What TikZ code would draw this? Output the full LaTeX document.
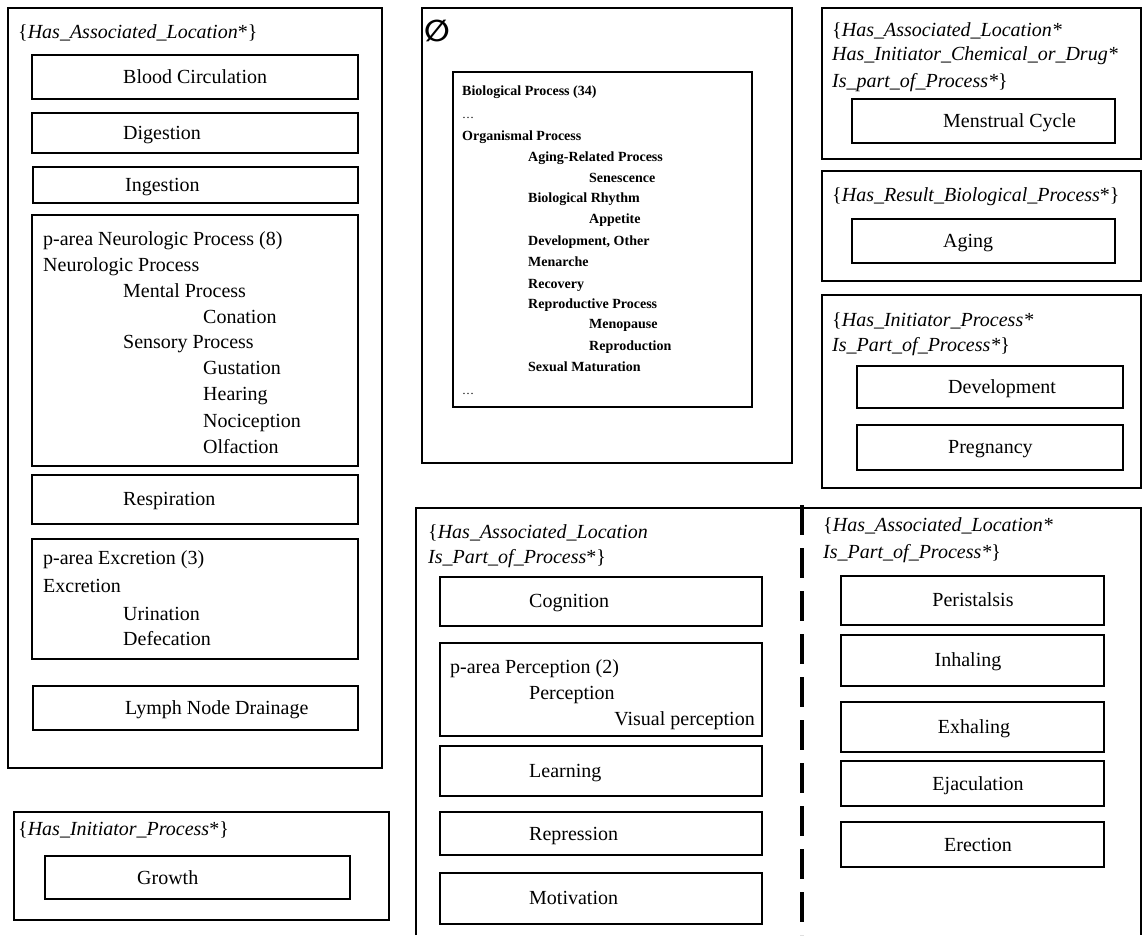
\documentclass[tikz,border=0pt]{standalone}
\usepackage{fontspec}
\setmainfont{Liberation Serif}
\newfontfamily\symfont{DejaVu Sans}
\begin{document}
\begin{tikzpicture}[x=1pt,y=-1pt,
  box/.style={draw=black,line width=2.2pt},
  outer/.style={draw=black,line width=1.8pt},
  lbl/.style={anchor=mid west,inner sep=0pt,yshift=-4.5pt,font=\fontsize{20}{24}\selectfont},
  hdr/.style={anchor=mid west,inner sep=0pt,yshift=-4.5pt,font=\fontsize{20}{24}\selectfont},
  sml/.style={anchor=mid west,inner sep=0pt,yshift=-3pt,font=\fontsize{14}{16}\selectfont\bfseries},
  dts/.style={anchor=base west,inner sep=0pt,font=\fontsize{12}{14}\selectfont}]
\useasboundingbox (0,0) rectangle (1143,935);
\fill[white] (0,0) rectangle (1143,935);

% ---------------- left big box
\draw[outer] (8,8) rectangle (382,768);
\node[hdr] (hA) at (18,32) {\{\textit{Has\_Associated\_Location}*\}};
\draw[box] (32,55) rectangle (358,99);
\node[lbl] (blood) at (123,77) {Blood Circulation};
\draw[box] (32,113) rectangle (358,153);
\node[lbl] (dig) at (123,133) {Digestion};
\draw[box] (33,167) rectangle (358,203);
\node[lbl] (ing) at (125,185) {Ingestion};
\draw[box] (32,215) rectangle (358,466);
\node[lbl] (n0) at (43,239) {p-area Neurologic Process (8)};
\node[lbl] (n1) at (43,265) {Neurologic Process};
\node[lbl] (n2) at (123,291) {Mental Process};
\node[lbl] (n3) at (203,317) {Conation};
\node[lbl] (n4) at (123,342) {Sensory Process};
\node[lbl] (n5) at (203,368) {Gustation};
\node[lbl] (n6) at (203,394) {Hearing};
\node[lbl] (n7) at (203,421) {Nociception};
\node[lbl] (n8) at (203,447) {Olfaction};
\draw[box] (32,475) rectangle (358,524);
\node[lbl] (resp) at (123,499) {Respiration};
\draw[box] (32,539) rectangle (358,659);
\node[lbl] (e0) at (43,558) {p-area Excretion (3)};
\node[lbl] (e1) at (43,586) {Excretion};
\node[lbl] (e2) at (123,614) {Urination};
\node[lbl] (e3) at (123,639) {Defecation};
\draw[box] (33,686) rectangle (358,730);
\node[lbl] (lymph) at (125,708) {Lymph Node Drainage};

% ---------------- growth box
\draw[outer] (14,812) rectangle (389,920);
\node[hdr] (hG) at (18,829) {\{\textit{Has\_Initiator\_Process}*\}};
\draw[box] (45,856) rectangle (350,899);
\node[lbl] (growth) at (137,878) {Growth};

% ---------------- empty-set box
\draw[outer] (422,8) rectangle (792,463);
\node[anchor=center,inner sep=0pt,font=\fontsize{30}{32}\selectfont\symfont\bfseries] (phi) at (437,31) {∅};
\draw[box] (453,72) rectangle (752,407);
\node[sml] (b0) at (462,90) {Biological Process (34)};
\node[dts] (b1) at (462,118) {\dots};
\node[sml] (b2) at (462,135) {Organismal Process};
\node[sml] (b3) at (528,156) {Aging-Related Process};
\node[sml] (b4) at (589,177) {Senescence};
\node[sml] (b5) at (528,197) {Biological Rhythm};
\node[sml] (b6) at (589,218) {Appetite};
\node[sml] (b7) at (528,240) {Development, Other};
\node[sml] (b8) at (528,261) {Menarche};
\node[sml] (b9) at (528,283) {Recovery};
\node[sml] (b10) at (528,303) {Reproductive Process};
\node[sml] (b11) at (589,323) {Menopause};
\node[sml] (b12) at (589,345) {Reproduction};
\node[sml] (b13) at (528,366) {Sexual Maturation};
\node[dts] (b14) at (462,394) {\dots};

% ---------------- right column
\draw[outer] (822,8) rectangle (1141,159);
\node[hdr] (hC1) at (832,30) {\{\textit{Has\_Associated\_Location*}};
\node[hdr] (hC2) at (832,54) {\textit{Has\_Initiator\_Chemical\_or\_Drug*}};
\node[hdr] (hC3) at (832,81) {\textit{Is\_part\_of\_Process*}\}};
\draw[box] (852,99) rectangle (1115,143);
\node[lbl] (mens) at (943,121) {Menstrual Cycle};

\draw[outer] (822,171) rectangle (1141,281);
\node[hdr] (hD) at (832,195) {\{\textit{Has\_Result\_Biological\_Process}*\}};
\draw[box] (852,219) rectangle (1115,263);
\node[lbl] (aging) at (943,241) {Aging};

\draw[outer] (822,295) rectangle (1141,488);
\node[hdr] (hE1) at (832,320) {\{\textit{Has\_Initiator\_Process*}};
\node[hdr] (hE2) at (832,345) {\textit{Is\_Part\_of\_Process*}\}};
\draw[box] (857,366) rectangle (1123,408);
\node[lbl] (dev) at (948,387) {Development};
\draw[box] (857,425) rectangle (1123,470);
\node[lbl] (preg) at (948,447) {Pregnancy};

% ---------------- bottom box (open at bottom)
\draw[outer] (416,935) -- (416,508) -- (1141,508) -- (1141,935);
\draw[line width=4pt,dash pattern=on 30pt off 13pt] (802,505) -- (802,935);

\node[hdr] (hF1) at (428,532) {\{\textit{Has\_Associated\_Location}};
\node[hdr] (hF2) at (428,557) {\textit{Is\_Part\_of\_Process}*\}};
\draw[box] (440,577) rectangle (762,626);
\node[lbl] (cog) at (529,601) {Cognition};
\draw[box] (440,643) rectangle (762,736);
\node[lbl] (p0) at (450,667) {p-area Perception (2)};
\node[lbl] (p1) at (529,693) {Perception};
\node[lbl,anchor=mid east] (p2) at (755,719) {Visual perception};
\draw[box] (440,746) rectangle (762,796);
\node[lbl] (learn) at (529,771) {Learning};
\draw[box] (440,812) rectangle (762,855);
\node[lbl] (repr) at (529,834) {Repression};
\draw[box] (440,873) rectangle (762,924);
\node[lbl] (motiv) at (529,898) {Motivation};

\node[hdr] (hH1) at (823,525) {\{\textit{Has\_Associated\_Location*}};
\node[hdr] (hH2) at (823,552) {\textit{Is\_Part\_of\_Process*}\}};
\draw[box] (841,576) rectangle (1104,625);
\node[lbl,anchor=mid] (peri) at (973,600) {Peristalsis};
\draw[box] (841,635) rectangle (1104,686);
\node[lbl,anchor=mid] (inh) at (968,660) {Inhaling};
\draw[box] (841,702) rectangle (1104,752);
\node[lbl,anchor=mid] (exh) at (974,727) {Exhaling};
\draw[box] (841,761) rectangle (1104,806);
\node[lbl,anchor=mid] (ejac) at (978,784) {Ejaculation};
\draw[box] (841,822) rectangle (1104,867);
\node[lbl,anchor=mid] (erec) at (978,845) {Erection};
\end{tikzpicture}
\end{document}
